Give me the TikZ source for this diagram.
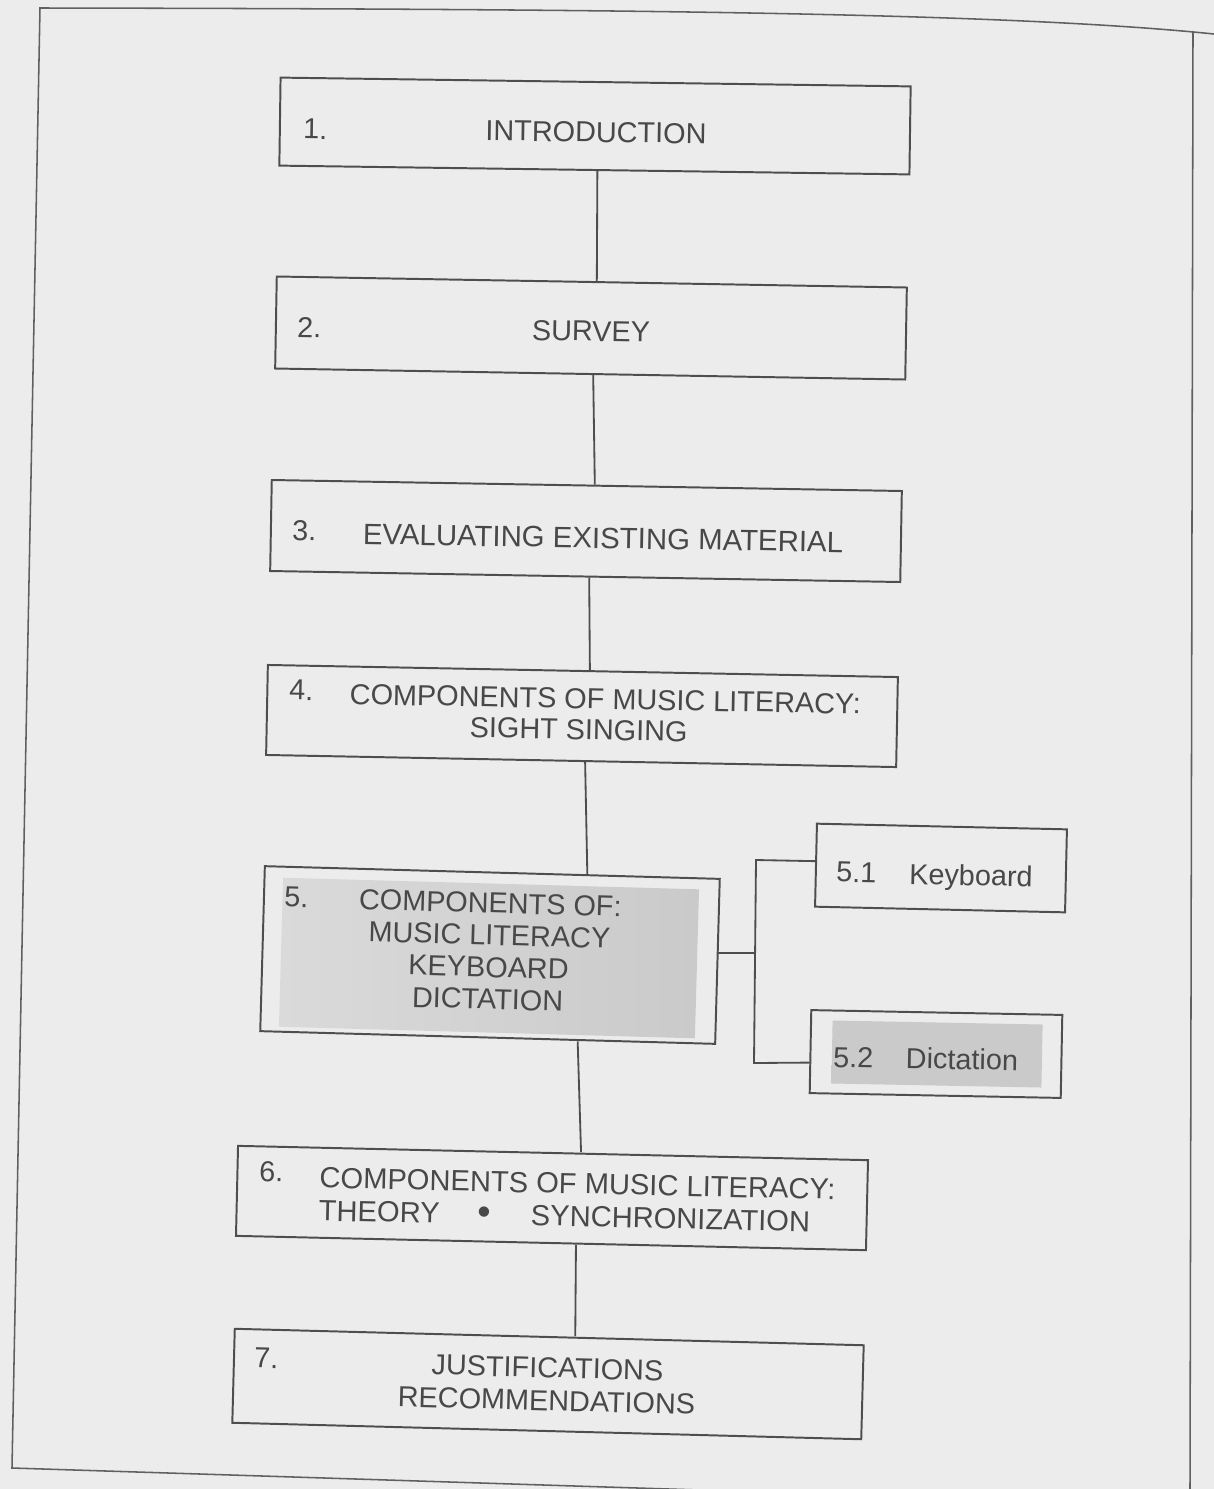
\documentclass[tikz,border=0pt]{standalone}
\usepackage{fontspec}
\setmainfont{Liberation Sans}
\usetikzlibrary{calc}
\definecolor{paper}{RGB}{236,236,236}
\definecolor{ink}{RGB}{78,78,78}
\definecolor{txt}{RGB}{72,72,72}
\definecolor{shadegray}{RGB}{202,202,202}
\definecolor{shadelight}{RGB}{218,218,218}
\begin{document}
\begin{tikzpicture}[x=0.025cm,y=-0.025cm,
  box/.style={draw=ink,line width=1.4pt,rectangle,inner sep=0pt},
  lbl/.style={text=txt,font=\fontsize{20.5}{23}\selectfont,inner sep=0pt,text depth=0pt},
  conn/.style={draw=ink,line width=1.3pt},
  frame/.style={draw=ink!90,line width=1.1pt},
  shadebox/.style={rectangle,inner sep=0pt,left color=shadelight,right color=shadegray}]
\useasboundingbox (0,0) rectangle (1214,1489);
\fill[paper] (0,0) rectangle (1214,1489);
% page frame
\draw[frame] (1214,34) .. controls (1000,12) and (600,9) .. (40,8) -- (12,1468) -- (700,1490);
\draw[frame] (1193,31) -- (1190,1489);
% boxes
\node[box,minimum width=15.75cm,minimum height=2.2cm,rotate=-0.8] (b1) at (595,126) {};
\node[box,minimum width=15.75cm,minimum height=2.3cm,rotate=-1.0] (b2) at (591,328) {};
\node[box,minimum width=15.75cm,minimum height=2.275cm,rotate=-1.0] (b3) at (586,531) {};
\node[box,minimum width=15.75cm,minimum height=2.25cm,rotate=-1.1] (b4) at (582,716) {};
\node[box,minimum width=11.375cm,minimum height=4.125cm,rotate=-1.6] (b5) at (490,955) {};
\node[box,minimum width=6.25cm,minimum height=2.075cm,rotate=-1.3] (b51) at (941,868) {};
\node[box,minimum width=6.275cm,minimum height=2.075cm,rotate=-1.1] (b52) at (936,1054) {};
\node[box,minimum width=15.75cm,minimum height=2.25cm,rotate=-1.3] (b6) at (552,1198) {};
\node[box,minimum width=15.725cm,minimum height=2.35cm,rotate=-1.5] (b7) at (548,1384) {};
% shaded areas
\node[shadebox,minimum width=10.4cm,minimum height=3.725cm,rotate=-1.6] (s5) at (489,958) {};
\node[shadebox,minimum width=5.25cm,minimum height=1.575cm,rotate=-1.1,left color=shadegray] (s52) at (937,1054) {};
% texts
\node[lbl,anchor=west,rotate=-0.8] (n1) at (303,129) {1.};
\node[lbl,rotate=-0.8] (t1) at (596,132) {INTRODUCTION};
\node[lbl,anchor=west,rotate=-1.0] (n2) at (297,327) {2.};
\node[lbl,rotate=-1.0] (t2) at (591,331) {SURVEY};
\node[lbl,anchor=west,rotate=-1.0] (n3) at (292,530) {3.};
\node[lbl,rotate=-1.0,font=\fontsize{20.9}{23}\selectfont] (t3) at (603,538) {EVALUATING EXISTING MATERIAL};
\node[lbl,anchor=west,rotate=-1.1] (n4) at (289,690) {4.};
\node[lbl,rotate=-1.1,align=center,font=\fontsize{20.5}{22}\selectfont] (t4) at (605,714.5) {COMPONENTS OF MUSIC LITERACY:\\SIGHT SINGING\hspace*{1.3cm}};
\node[lbl,anchor=west,rotate=-1.6] (n5) at (284,897) {5.};
\node[lbl,rotate=-1.6,align=center,font=\fontsize{20.5}{22.8}\selectfont] (t5) at (489,951) {COMPONENTS OF:\\MUSIC LITERACY\\KEYBOARD\\DICTATION};
\node[lbl,anchor=west,rotate=-1.3] (n51) at (836,872) {5.1};
\node[lbl,rotate=-1.3] (t51) at (971,875) {Keyboard};
\node[lbl,anchor=west,rotate=-1.1] (n52) at (833,1057) {5.2};
\node[lbl,rotate=-1.1] (t52) at (962,1059) {Dictation};
\node[lbl,anchor=west,rotate=-1.3] (n6) at (259,1171) {6.};
\node[lbl,anchor=west,rotate=-1.3,align=left,font=\fontsize{20.7}{23.4}\selectfont] (t6) at (319,1194) {COMPONENTS OF MUSIC LITERACY:\\THEORY\hspace{0.95cm}{\fontsize{27}{23}\selectfont\textbullet}\hspace{1.0cm}SYNCHRONIZATION};
\node[lbl,anchor=west,rotate=-1.5] (n7) at (254,1358) {7.};
\node[lbl,rotate=-1.5,align=center,font=\fontsize{20.5}{23.4}\selectfont] (t7) at (547,1384) {JUSTIFICATIONS\\RECOMMENDATIONS};
% connectors
\draw[conn] ($(b1.south)+(3,0)$) -- ($(b2.north)+(5,0)$);
\draw[conn] ($(b2.south)+(3,0)$) -- ($(b3.north)+(8,0)$);
\draw[conn] ($(b3.south)+(4,0)$) -- ($(b4.north)+(7,0)$);
\draw[conn] ($(b4.south)+(4,0)$) -- ($(b5.north)+(95,3)$);
\draw[conn] ($(b5.south)+(90,3)$) -- ($(b6.north)+(28,0)$);
\draw[conn] ($(b6.south)+(25,1)$) -- ($(b7.north)+(26,0)$);
% bracket to sub-boxes
\coordinate (jt) at (756,860);
\coordinate (jb) at (754,1063);
\coordinate (e5) at ($(b5.east)+(0,-8)$);
\draw[conn] ($(b51.west)+(0,-4)$) -- (jt) -- (jb) -- ($(b52.west)+(0,11)$);
\draw[conn] (e5) -- (e5 -| jt);
\end{tikzpicture}
\end{document}
